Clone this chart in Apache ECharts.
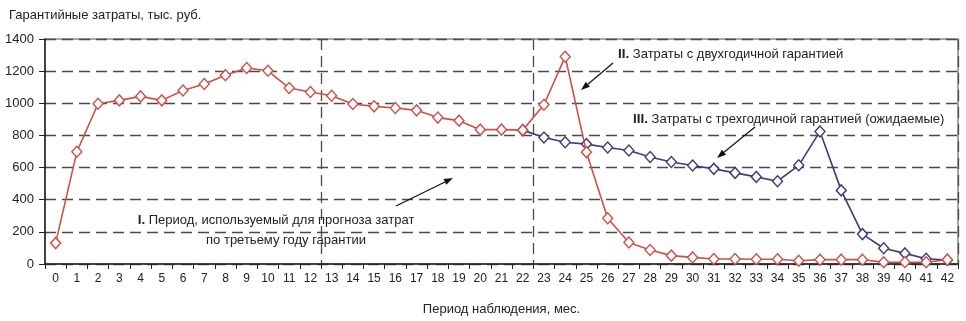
<!DOCTYPE html>
<html>
<head>
<meta charset="utf-8">
<script src="https://cdn.jsdelivr.net/npm/echarts@6/dist/echarts.min.js"></script>
<style>
html,body{margin:0;padding:0;background:#fff;}
#chart{width:966px;height:321px;}
</style>
</head>
<body>
<div id="chart"></div>
<script>
const categories = ['0','1','2','3','4','5','6','7','8','9','10','11','12','13','14','15','16','17','18','19','20','21','22','23','24','25','26','27','28','29','30','31','32','33','34','35','36','37','38','39','40','41','42'];
// II. Затраты с двухгодичной гарантией
const twoYear = [130, 698, 997, 1018, 1043, 1018, 1080, 1120, 1175, 1220, 1202, 1095, 1070, 1047, 996, 981, 971, 956, 911, 892, 836, 836, 833, 991, 1290, 696, 285, 134, 87, 52, 41, 31, 31, 30, 30, 20, 27, 27, 27, 11, 11, 11, 27];
// III. Затраты с трехгодичной гарантией (ожидаемые), months 22..42
const threeYear = [null,null,null,null,null,null,null,null,null,null,null,null,null,null,null,null,null,null,null,null,null,null,
  833, 787, 758, 746, 725, 706, 666, 635, 613, 592, 567, 542, 515, 614, 825, 458, 186, 98, 66, 33, 25];
const yTicks = [0, 200, 400, 600, 800, 1000, 1200, 1400];

const FONT = '"Liberation Sans", Arial, sans-serif';
const RED = '#cf5046';
const BLUE = '#3b3b7e';
const GRID = '#4a4a4a';

function arrow(x1, y1, x2, y2) {
  const ang = Math.atan2(y2 - y1, x2 - x1);
  const L = 9, W = 3.2;
  const bx = x2 - L * Math.cos(ang), by = y2 - L * Math.sin(ang);
  const px = -Math.sin(ang) * W, py = Math.cos(ang) * W;
  return [
    {type:'line', shape:{x1:x1, y1:y1, x2:bx, y2:by}, style:{stroke:'#111', lineWidth:1.2}, z:100},
    {type:'polygon', shape:{points:[[x2,y2],[bx+px,by+py],[bx-px,by-py]]}, style:{fill:'#111'}, z:100}
  ];
}

const rich = {b:{fontWeight:'bold', fontSize:13.5, fontFamily:FONT, fill:'#222'}};
function label(x, y, text, align) {
  return {type:'text', x:x, y:y, z:100,
    style:{text:text, fill:'#222', font:'13px ' + FONT, rich:rich, textVerticalAlign:'middle', textAlign:align || 'left'}};
}

const chart = echarts.init(document.getElementById('chart'), null, {renderer:'canvas'});
chart.setOption({
  animation:false,
  backgroundColor:'#fff',
  title:{text:'Гарантийные затраты, тыс. руб.', left:4, top:4,
    textStyle:{fontSize:13, fontWeight:'normal', color:'#222', fontFamily:FONT}},
  grid:{left:45, right:8, top:39, bottom:56, show:true, borderColor:'#888', borderWidth:1.5, backgroundColor:'transparent'},
  xAxis:{
    type:'category', data:categories, boundaryGap:true,
    name:'Период наблюдения, мес.', nameLocation:'middle', nameGap:39,
    nameTextStyle:{fontSize:13, color:'#222', fontFamily:FONT},
    axisLine:{lineStyle:{color:'#222', width:1.5}},
    axisTick:{show:true, length:5, lineStyle:{color:'#222'}},
    axisLabel:{interval:0, fontSize:12, color:'#222', fontFamily:FONT, margin:9},
    splitLine:{show:true, interval:function(i){return i===13 || i===23;},
      lineStyle:{color:GRID, type:[11,6], width:1.3}}
  },
  yAxis:{
    type:'value', min:0, max:1400, interval:200,
    axisLine:{show:true, lineStyle:{color:'#222', width:1.5}},
    axisTick:{show:true, length:6, inside:false, lineStyle:{color:'#222'}},
    axisLabel:{fontSize:13, color:'#222', fontFamily:FONT, margin:11,
      formatter:function(v){return yTicks.indexOf(v) >= 0 ? String(v) : '';}},
    splitLine:{show:true, lineStyle:{color:GRID, type:[11,6], width:1.3}}
  },
  series:[
    {name:'III', type:'line', data:threeYear, connectNulls:false,
      lineStyle:{color:BLUE, width:1.6}, itemStyle:{color:'#fff', borderColor:BLUE, borderWidth:1.4},
      symbol:'diamond', symbolSize:[10,11], showAllSymbol:true, z:3},
    {name:'II', type:'line', data:twoYear,
      lineStyle:{color:RED, width:1.6}, itemStyle:{color:'#fff', borderColor:RED, borderWidth:1.4},
      symbol:'diamond', symbolSize:[10,11], showAllSymbol:true, z:4}
  ],
  graphic:[].concat(
    [label(276, 220, '{b|I.} Период, используемый для прогноза затрат', 'center'),
     label(286, 240, 'по третьему году гарантии', 'center'),
     label(618, 54, '{b|II.} Затраты с двухгодичной гарантией'),
     label(633, 119, '{b|III.} Затраты с трехгодичной гарантией (ожидаемые)')],
    arrow(396, 206, 453, 178),
    arrow(613, 63, 581, 90),
    arrow(755, 127, 717, 158)
  )
});
</script>
</body>
</html>
